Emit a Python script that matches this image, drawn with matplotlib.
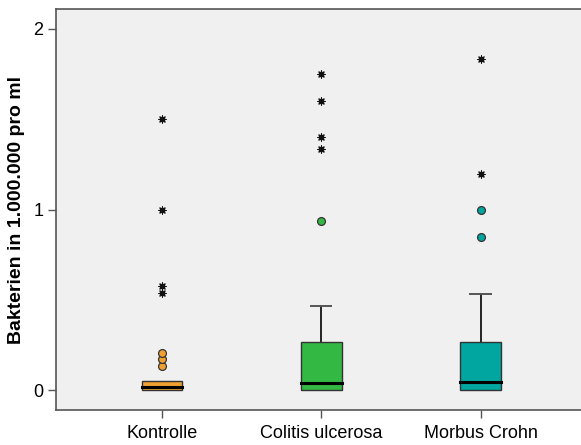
import matplotlib.pyplot as plt
from matplotlib.patches import Rectangle

plt.rcParams['font.family'] = ['Liberation Sans', 'DejaVu Sans']

groups = ['Kontrolle', 'Colitis ulcerosa', 'Morbus Crohn']
colors = ['#f0a030', '#33b843', '#00a69f']

q1 = [0.005, 0.003, 0.003]
median = [0.018, 0.040, 0.048]
q3 = [0.055, 0.270, 0.268]
whis_lo = [0.005, 0.003, 0.003]
whis_hi = [0.055, 0.470, 0.535]

# mild outliers (circles) and extreme values (asterisks)
outliers = [[0.138, 0.175, 0.210], [0.935], [0.850, 1.000]]
extremes = [[0.540, 0.580, 1.000, 1.500], [1.337, 1.400, 1.600, 1.750], [1.200, 1.835]]

fig = plt.figure(figsize=(5.81, 4.45), dpi=100)
ax = fig.add_axes([56 / 581, 35 / 445, 525 / 581, 401 / 445])
ax.set_facecolor('#f0f0f0')

pos = [1, 2, 3]
width = 0.255
for i, p in enumerate(pos):
    # whisker + cap
    if whis_hi[i] > q3[i]:
        ax.plot([p, p], [q3[i], whis_hi[i]], color='black', lw=1.2, zorder=2)
        ax.plot([p - width / 4, p + width / 4], [whis_hi[i], whis_hi[i]],
                color='#555555', lw=1.4, zorder=2)
    ax.add_patch(Rectangle((p - width / 2, q1[i]), width, q3[i] - q1[i],
                           facecolor=colors[i], edgecolor='#333333', lw=1.0, zorder=3))
    ax.plot([p - width / 2, p + width / 2], [median[i], median[i]],
            color='black', lw=2.2, zorder=4)
    ax.scatter([p] * len(outliers[i]), outliers[i], s=32, color=colors[i],
               edgecolor='#333333', linewidth=0.9, zorder=5)
    ax.scatter([p] * len(extremes[i]), extremes[i], s=16, color='#111111',
               marker='o', linewidth=0, zorder=5)
    ax.scatter([p] * len(extremes[i]), extremes[i], s=26, color='#111111',
               marker=(8, 2, 0), linewidth=0.8, zorder=5)

ax.set_xlim(0.335, 3.63)
ax.set_ylim(-0.108, 2.11)
ax.set_yticks([0, 1, 2])
ax.set_yticklabels(['0', '1', '2'])
ax.set_xticks(pos)
ax.set_xticklabels(groups)
ax.tick_params(axis='both', direction='out', length=6, width=1, color='#555555',
               labelsize=13, labelcolor='black', pad=3)
ax.tick_params(axis='x', pad=5)

for side in ['left', 'bottom', 'top']:
    ax.spines[side].set_color('#555555')
    ax.spines[side].set_linewidth(1.2)
ax.spines['right'].set_visible(False)

ax.set_ylabel('Bakterien in 1.000.000 pro ml', fontsize=14, fontweight='bold', labelpad=6)

fig.savefig('out.png', dpi=100)
